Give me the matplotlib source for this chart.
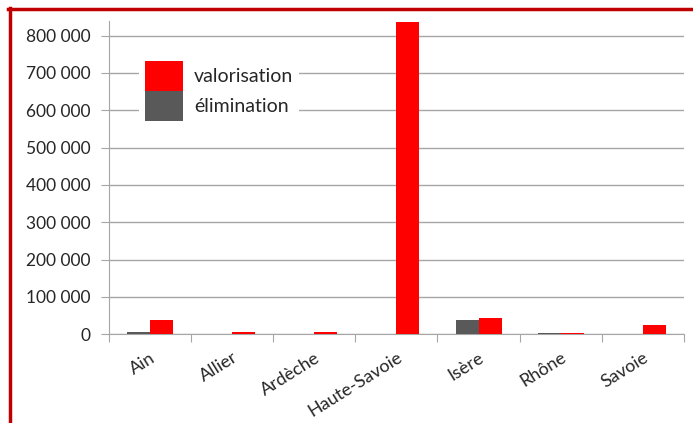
import matplotlib.pyplot as plt
import numpy as np
from matplotlib.lines import Line2D
from matplotlib.ticker import FuncFormatter

# données (tonnes)
departements = ["Ain", "Allier", "Ardèche", "Haute-Savoie", "Isère", "Rhône", "Savoie"]
elimination = [7000, 0, 0, 0, 38000, 4000, 0]
valorisation = [38000, 5000, 5000, 837000, 43000, 4000, 24000]

plt.rcParams['font.family'] = ['Lato', 'DejaVu Sans']

fig = plt.figure(figsize=(6.93, 4.23), dpi=100)
ax = fig.add_axes([0.157, 0.21, 0.83, 0.741])

x = np.arange(len(departements))
w = 0.28
ax.bar(x - w / 2, elimination, w, color='#595959', label='élimination', zorder=3)
ax.bar(x + w / 2, valorisation, w, color='#ff0000', label='valorisation', zorder=3)

ax.set_xlim(-0.5, len(departements) - 0.5)
ax.set_ylim(0, 840000)
ax.set_yticks(np.arange(0, 800001, 100000))
ax.yaxis.set_major_formatter(FuncFormatter(lambda v, p: f"{int(v):,}".replace(",", " ")))
ax.grid(axis='y', color='#a6a6a6', linewidth=1, zorder=0)

ax.set_xticks(np.arange(-0.5, len(departements), 1))
ax.set_xticklabels([])
ax.set_xticks(x, minor=True)
ax.set_xticklabels(departements, minor=True, rotation=32, ha='right',
                   rotation_mode='anchor', fontsize=13, color='#262626')
ax.tick_params(axis='x', which='minor', length=0, pad=11)
ax.tick_params(axis='x', which='major', length=6, color='#a6a6a6')
ax.tick_params(axis='y', length=6, color='#a6a6a6', labelsize=12.5, labelcolor='#262626', pad=7)

for s in ['top', 'right']:
    ax.spines[s].set_visible(False)
for s in ['left', 'bottom']:
    ax.spines[s].set_color('#a6a6a6')

h, l = ax.get_legend_handles_labels()
leg = ax.legend(h[::-1], l[::-1], loc='upper left', bbox_to_anchor=(139 / 693, 1 - 55 / 423),
                bbox_transform=fig.transFigure, borderaxespad=0,
                frameon=True, fancybox=False, edgecolor='none', framealpha=1,
                fontsize=14, handlelength=1.95, handleheight=2.0,
                labelspacing=0.0, handletextpad=0.57, borderpad=0.3)
for t in leg.get_texts():
    t.set_color('#262626')

# cadre rouge
fig.add_artist(Line2D([8 / 693, 1], [1 - 9.5 / 423, 1 - 9.5 / 423], color='#c00000', linewidth=2.5))
fig.add_artist(Line2D([9.5 / 693, 9.5 / 693], [0, 1 - 8 / 423], color='#c00000', linewidth=2.5))

fig.savefig("out.png", dpi=100)
